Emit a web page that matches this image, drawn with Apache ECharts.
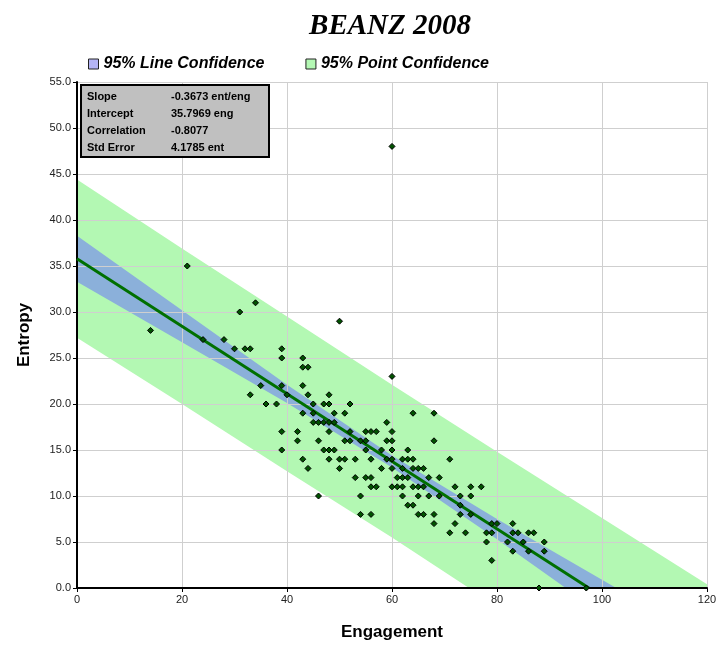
<!DOCTYPE html>
<html>
<head>
<meta charset="utf-8">
<title>BEANZ 2008</title>
<script src="https://cdn.jsdelivr.net/npm/echarts@6/dist/echarts.min.js"></script>
<style>
  body { margin: 0; background: #fff; }
  #plot { width: 721px; height: 646px; }
</style>
</head>
<body>
<div id="plot"></div>
<script>
// engagement / entropy pairs
const points = [
    [14, 28], [21, 35], [24, 27], [28, 27], [31, 30], [34, 31], [30, 26], [32, 26], [33, 26],
    [35, 22], [33, 21], [36, 20], [39, 26], [39, 25], [43, 25], [43, 24], [44, 24], [60, 23],
    [39, 22], [43, 22], [40, 21], [44, 21], [48, 21],
    [38, 20], [45, 20], [47, 20], [48, 20], [52, 20],
    [43, 19], [45, 19], [49, 19], [51, 19], [64, 19], [68, 19],
    [45, 18], [46, 18], [47, 18], [48, 18], [49, 18], [59, 18],
    [39, 17], [42, 17], [48, 17], [52, 17], [55, 17], [56, 17], [57, 17], [60, 17],
    [42, 16], [46, 16], [51, 16], [52, 16], [54, 16], [55, 16], [59, 16], [60, 16], [68, 16],
    [39, 15], [47, 15], [48, 15], [49, 15], [55, 15], [58, 15], [60, 15], [63, 15],
    [43, 14], [48, 14], [50, 14], [51, 14], [53, 14], [56, 14], [59, 14], [60, 14], [62, 14], [63, 14], [64, 14], [71, 14],
    [44, 13], [50, 13], [58, 13], [60, 13], [62, 13], [64, 13], [65, 13], [66, 13],
    [53, 12], [55, 12], [56, 12], [61, 12], [62, 12], [63, 12], [67, 12], [69, 12],
    [56, 11], [57, 11], [60, 11], [61, 11], [62, 11], [64, 11], [65, 11], [66, 11], [72, 11], [75, 11], [77, 11],
    [46, 10], [54, 10], [62, 10], [65, 10], [67, 10], [69, 10], [73, 10], [75, 10],
    [63, 9], [64, 9], [73, 9],
    [54, 8], [56, 8], [65, 8], [66, 8], [68, 8], [73, 8], [75, 8],
    [68, 7], [72, 7], [79, 7], [80, 7], [83, 7],
    [71, 6], [74, 6], [78, 6], [79, 6], [83, 6], [84, 6], [86, 6], [87, 6],
    [78, 5], [82, 5], [85, 5], [89, 5],
    [83, 4], [86, 4], [89, 4],
    [79, 3], [88, 0], [97, 0],
    [50, 29], [60, 48]
];

// regression line ends
const trendX = [0, 97.5];
const trendY = [35.8, 0];

// band edges read at these engagement values
const bandX = [0, 20, 40, 60, 80, 100, 120];
const lineUpper = [38.3, 30.2, 22.1, 14.4, 7.5, 0.9, -5.7];
const lineLower = [33.3, 26.7, 20.1, 13.1, 5.3, -2.8, -10.9];
const pointUpper = [44.4, 36.9, 29.5, 22.1, 14.8, 7.6, 0.4];
const pointLower = [27.2, 20.0, 12.7, 5.5, -2.0, -9.4, -17.0];

const xTicks = [0, 20, 40, 60, 80, 100, 120];
const statLabels = ['Slope', 'Intercept', 'Correlation', 'Std Error'];
const statValues = ['-0.3673 ent/eng', '35.7969 eng', '-0.8077', '4.1785 ent'];

const legendNames = ['95% Line Confidence', '95% Point Confidence'];

//画置信带的多边形
function band(upper, lower, fill) {
    return function (params, api) {
        let pts = [];
        for (let i = 0; i < bandX.length; i++) {
            pts.push(api.coord([bandX[i], upper[i]]));
        }
        for (let i = bandX.length - 1; i >= 0; i--) {
            pts.push(api.coord([bandX[i], lower[i]]));
        }
        const cs = params.coordSys;
        return {
            type: 'polygon',
            shape: { points: pts },
            style: { fill: fill },
            clipPath: { type: 'rect', shape: { x: cs.x, y: cs.y, width: cs.width, height: cs.height } }
        };
    };
}

let trendData = [];
for (let i = 0; i < trendX.length; i++) {
    trendData.push([trendX[i], trendY[i]]);
}

// stats box (z on every element so it sits above the grid lines)
let boxChildren = [{
    type: 'rect',
    z: 100,
    shape: { x: 0, y: 0, width: 188, height: 72 },
    style: { fill: '#c0c0c0', stroke: '#000', lineWidth: 2 }
}];
for (let i = 0; i < statLabels.length; i++) {
    boxChildren.push({
        type: 'text', z: 101, x: 6, y: 12 + i * 17,
        style: { text: statLabels[i], fill: '#000', font: 'bold 11px "Liberation Sans", Arial', verticalAlign: 'middle' }
    });
    boxChildren.push({
        type: 'text', z: 101, x: 90, y: 12 + i * 17,
        style: { text: statValues[i], fill: '#000', font: 'bold 11px "Liberation Sans", Arial', verticalAlign: 'middle' }
    });
}

var myChart = echarts.init(document.getElementById('plot'));
var option = {
    animation: false,
    backgroundColor: '#fff',
    title: {
        text: 'BEANZ 2008',
        left: 385,
        top: 7,
        textAlign: 'center',
        textStyle: { fontFamily: '"Liberation Serif", "Times New Roman", serif', fontStyle: 'italic', fontWeight: 'bold', fontSize: 29, color: '#000' }
    },
    legend: {
        left: 83,
        top: 51,
        itemWidth: 10,
        itemHeight: 10,
        itemGap: 41,
        icon: 'rect',
        data: [
            { name: legendNames[0], itemStyle: { color: '#b4b4f4', borderColor: '#222', borderWidth: 1 } },
            { name: legendNames[1], itemStyle: { color: '#b4f8b4', borderColor: '#222', borderWidth: 1 } }
        ],
        textStyle: { fontFamily: '"Liberation Sans", Arial', fontStyle: 'italic', fontWeight: 'bold', fontSize: 16, color: '#000' }
    },
    grid: { left: 77, right: 14, top: 82, bottom: 52 },
    xAxis: {
        type: 'value',
        min: xTicks[0],
        max: xTicks[xTicks.length - 1],
        interval: 20,
        name: 'Engagement',
        nameLocation: 'middle',
        nameGap: 36,
        nameTextStyle: { fontFamily: '"Liberation Sans", Arial', fontWeight: 'bold', fontSize: 17, color: '#000' },
        axisLine: { lineStyle: { color: '#000', width: 2 } },
        axisTick: { show: true, length: 4, lineStyle: { color: '#000' } },
        axisLabel: { fontFamily: '"Liberation Sans", Arial', fontSize: 11, color: '#222', margin: 6 },
        splitLine: { lineStyle: { color: '#cfcfcf', width: 1 } }
    },
    yAxis: {
        type: 'value',
        min: 0,
        max: 55,
        interval: 5,
        name: 'Entropy',
        nameLocation: 'middle',
        nameGap: 44,
        nameTextStyle: { fontFamily: '"Liberation Sans", Arial', fontWeight: 'bold', fontSize: 17, color: '#000' },
        axisLine: { show: true, lineStyle: { color: '#000', width: 2 } },
        axisTick: { show: true, length: 4, lineStyle: { color: '#000' } },
        axisLabel: {
            fontFamily: '"Liberation Sans", Arial', fontSize: 11, color: '#222', margin: 6,
            formatter: function (v) { return v.toFixed(1); }
        },
        splitLine: { lineStyle: { color: '#cfcfcf', width: 1 } }
    },
    graphic: [{ type: 'group', left: 80, top: 84, children: boxChildren }],
    series: [
        {
            name: legendNames[1],
            type: 'custom',
            z: -2,
            itemStyle: { color: '#b4f8b4' },
            renderItem: band(pointUpper, pointLower, '#b3f8b3'),
            data: [[0, 0]]
        },
        {
            name: legendNames[0],
            type: 'custom',
            z: -1,
            itemStyle: { color: '#b4b4f4' },
            renderItem: band(lineUpper, lineLower, '#8bb0da'),
            data: [[0, 0]]
        },
        {
            name: 'Fit',
            type: 'line',
            showSymbol: false,
            lineStyle: { color: '#007000', width: 3 },
            data: trendData,
            z: 3
        },
        {
            name: 'Data',
            type: 'scatter',
            symbol: 'diamond',
            symbolSize: 6,
            itemStyle: { color: '#005200', borderColor: '#000', borderWidth: 1, opacity: 1 },
            data: points,
            z: 4
        }
    ]
};
myChart.setOption(option);
</script>
</body>
</html>
